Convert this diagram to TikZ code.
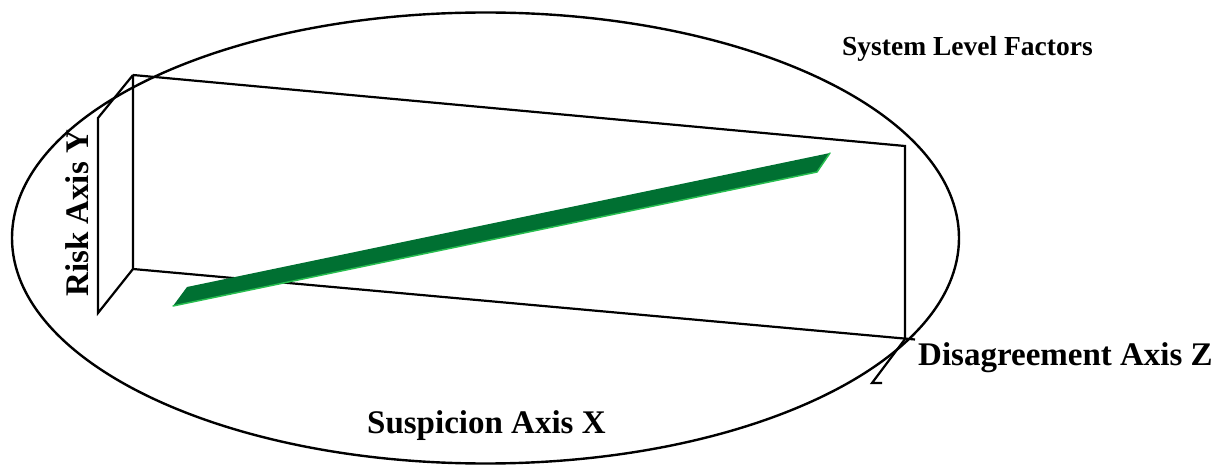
\documentclass[tikz,border=0pt]{standalone}
\usepackage{fontspec}
\usetikzlibrary{shapes.geometric}
\setmainfont{Liberation Serif}
\definecolor{bandgreen}{RGB}{0,112,50}
\definecolor{bandedge}{RGB}{40,190,80}
\tikzset{
  frame/.style={draw=black, line width=2.2pt, line join=miter},
  lbl/.style={font=\fontsize{33}{36}\selectfont\bfseries, inner sep=0pt},
  smalllbl/.style={font=\fontsize{27.5}{30}\selectfont\bfseries, inner sep=0pt}
}
\begin{document}
\begin{tikzpicture}[x=1pt,y=-1pt]
\useasboundingbox (0,0) rectangle (1224,465);
% ellipse
\node[draw=black, line width=2.4pt, ellipse, minimum width=947pt, minimum height=451pt, inner sep=0pt] (ell) at (485.5,238) {};
% back plane corners
\coordinate (tl) at (133,75);
\coordinate (tr) at (905,146);
\coordinate (br) at (905,339);
\coordinate (bl) at (133,269);
% side plane
\coordinate (stl) at (98,118);
\coordinate (sbl) at (98,313);
% z axis tick
\coordinate (bre) at (915,339.5);
\coordinate (z1) at (872,383);
\coordinate (z2) at (882,383);
\draw[frame] (tl) -- (tr) -- (br) (tl) -- (bl) -- (bre);
\draw[frame] (tl) -- (stl) -- (sbl) -- (bl);
\draw[frame] (br) -- (z1) -- (z2);
% green band
\coordinate (g1) at (173,306);
\coordinate (g2) at (187,287);
\coordinate (g3) at (830,153);
\coordinate (g4) at (817,172);
\fill[bandgreen] (g1) -- (g2) -- (g3) -- (g4) -- cycle;
\draw[bandedge, line width=1.5pt, line cap=round] (g1) -- (g4) -- (g3);
% labels
\node[lbl, anchor=base west, rotate=90] (risk) at (88,297) {Risk Axis Y};
\node[lbl, anchor=base west] (dis) at (918,365) {Disagreement Axis Z};
\node[lbl, anchor=base west] (sus) at (367,433) {Suspicion Axis X};
\node[smalllbl, anchor=base west] (sys) at (842,56) {System Level Factors};
\end{tikzpicture}
\end{document}
